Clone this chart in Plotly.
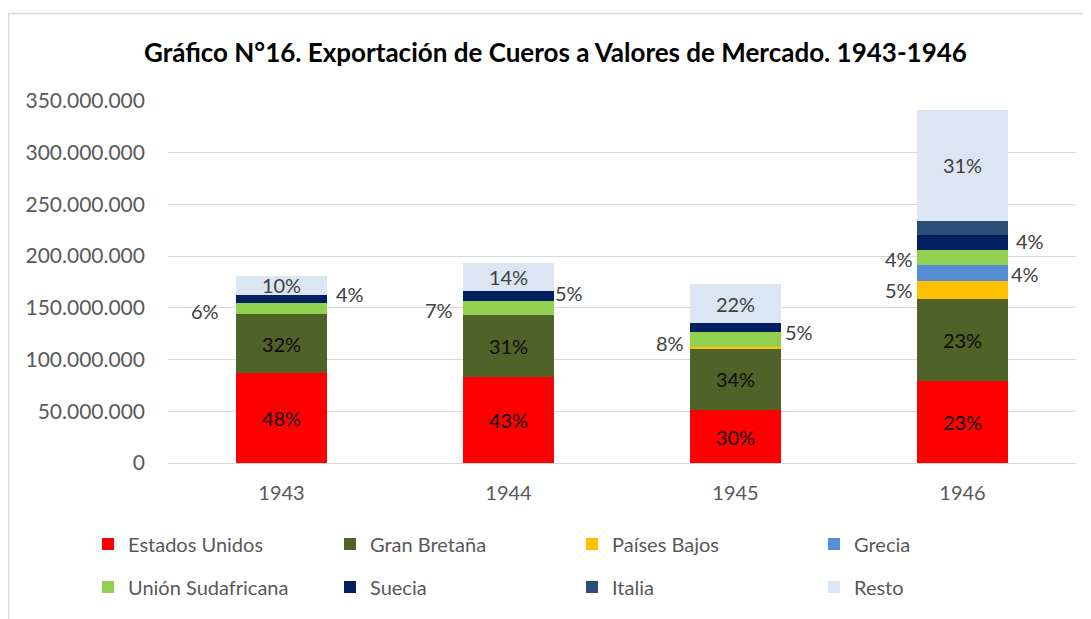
import plotly.graph_objects as go

years = ["1943", "1944", "1945", "1946"]
countries = ["Estados Unidos", "Gran Bretaña", "Países Bajos", "Grecia",
             "Unión Sudafricana", "Suecia", "Italia", "Resto"]
estados_unidos = [86.7e6, 82.9e6, 51.2e6, 79.0e6]
gran_bretana = [57.1e6, 60.2e6, 59.3e6, 79.5e6]
paises_bajos = [0, 0, 1.2e6, 17.3e6]
grecia = [0, 0, 0, 15.3e6]
union_sudafricana = [11.2e6, 13.5e6, 14.5e6, 14.8e6]
suecia = [7.8e6, 9.7e6, 8.7e6, 14.3e6]
italia = [0, 0, 0, 14.0e6]
resto = [18.0e6, 26.8e6, 38.0e6, 107.0e6]

series = [estados_unidos, gran_bretana, paises_bajos, grecia,
          union_sudafricana, suecia, italia, resto]
colors = ["#FF0000", "#4F6228", "#FFC000", "#558ED5",
          "#92D050", "#002060", "#2C4D75", "#DCE6F2"]
# label style per series: "in" inside bar, "left"/"right" outside, None no label
label_mode = {
    "Estados Unidos": ["in", "in", "in", "in"],
    "Gran Bretaña": ["in", "in", "in", "in"],
    "Países Bajos": [None, None, None, "left"],
    "Grecia": [None, None, None, "right"],
    "Unión Sudafricana": ["left", "left", "left", "left"],
    "Suecia": ["right", "right", "right", "right"],
    "Italia": [None, None, None, None],
    "Resto": ["in", "in", "in", "in"],
}
# outside label style tweaks (gap from bar edge in px, vertical shift in px)
label_gap = {
    ("Unión Sudafricana", 0): (18, -3), ("Unión Sudafricana", 1): (11, -2),
    ("Unión Sudafricana", 2): (7, -3), ("Unión Sudafricana", 3): (5, -1),
    ("Países Bajos", 3): (5, 0),
    ("Suecia", 0): (10, 5), ("Suecia", 1): (2, 3), ("Suecia", 2): (5, -4),
    ("Suecia", 3): (9, 2), ("Grecia", 3): (4, -1),
}
inside_text_color = {"Estados Unidos": "#0D0D0D", "Gran Bretaña": "#0D0D0D", "Resto": "#404040"}

FONT = "Lato"
HALF_BAR = 45.4
totals = [sum(s[i] for s in series) for i in range(len(years))]

fig = go.Figure()
annotations = []
cum = [0.0] * len(years)
for k, (name, vals, col) in enumerate(zip(countries, series, colors)):
    texts = []
    for i, v in enumerate(vals):
        pct = f"{round(v / totals[i] * 100)}%"
        mode = label_mode[name][i]
        mid = cum[i] + v / 2
        if mode == "in" and v > 0:
            texts.append(pct)
        else:
            texts.append("")
        if mode in ("left", "right") and v > 0:
            gap, ys = label_gap.get((name, i), (8, 0))
            shift = HALF_BAR + gap - 2.6
            annotations.append(dict(
                x=i, y=mid, xref="x", yref="y", text=pct, showarrow=False,
                xanchor="right" if mode == "left" else "left", yanchor="middle",
                xshift=-shift if mode == "left" else shift, yshift=ys,
                font=dict(family=FONT, size=20, color="#404040")))
        cum[i] += v
    fig.add_trace(go.Bar(
        x=years, y=vals, name=name, marker=dict(color=col, line=dict(width=0)),
        text=texts, textposition="inside", insidetextanchor="middle", textangle=0,
        constraintext="none",
        textfont=dict(family=FONT, size=20, color=inside_text_color.get(name, "#404040")),
        legend="legend" if k < 4 else "legend2",
        hoverinfo="x+y+name",
    ))

# page body has an 8px margin; screen coords below are converted accordingly
OFF = 8
W, H = 1091 - OFF, 619 - OFF
L, R, T, B = 168 - OFF, 15, 101 - OFF, 156
pw, ph = W - L - R, H - T - B

def px(x):
    return (x - OFF - L) / pw

def py(y):
    return (H - B - (y - OFF)) / ph

annotations.append(dict(
    text="<b>Gráfico N°16. Exportación de Cueros a Valores de Mercado. 1943-1946</b>",
    xref="paper", yref="paper", x=px(555), y=py(52), xanchor="center", yanchor="middle",
    showarrow=False, font=dict(family=FONT, size=26, color="#000000")))

legend_common = dict(orientation="h", xanchor="left", yanchor="middle", entrywidth=197,
                     font=dict(family=FONT, size=20, color="#595959"),
                     bgcolor="rgba(0,0,0,0)", traceorder="normal")

fig.update_layout(
    width=W, height=H,
    margin=dict(l=L, r=R, t=T, b=B),
    paper_bgcolor="white", plot_bgcolor="white",
    barmode="stack", bargap=0.6,
    separators=",.",
    font=dict(family=FONT, size=20, color="#595959"),
    xaxis=dict(type="category", range=[-0.5, 3.5], showgrid=False, showline=True,
               linecolor="#D9D9D9", linewidth=1.3, ticks="",
               tickfont=dict(family=FONT, size=20, color="#595959"), ticklabelstandoff=12),
    yaxis=dict(range=[0, 350e6], dtick=50e6, tickformat=",d", showgrid=True, gridcolor="#D9D9D9",
               gridwidth=1.3, zeroline=False, showline=False, ticks="",
               tickfont=dict(family=FONT, size=21, color="#595959"), ticklabelstandoff=22),
    legend=dict(x=px(88), y=py(544), **legend_common),
    legend2=dict(x=px(88), y=py(587), **legend_common),
    annotations=annotations,
    shapes=[dict(type="rect", xref="paper", yref="paper", x0=px(8.7), x1=px(1090), y0=py(700), y1=py(13.5),
                 line=dict(color="#D9D9D9", width=1.3), fillcolor="rgba(0,0,0,0)", layer="below")],
)

fig.write_html("out.html")
